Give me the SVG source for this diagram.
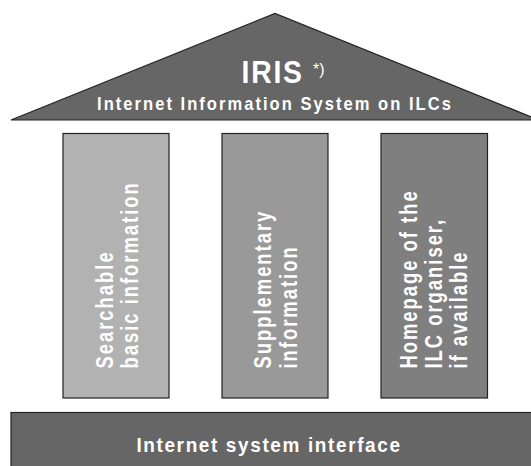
<svg xmlns="http://www.w3.org/2000/svg" width="531" height="466" viewBox="0 0 531 466">
<style>
.t{font-family:"Liberation Sans",Arial,sans-serif;font-weight:bold;fill:#ffffff}
.p{font-size:23px;letter-spacing:2.5px}
.shape{stroke:#222;stroke-width:1.2}
</style>
<rect width="531" height="466" fill="#ffffff"/>
<g id="roof">
<polygon class="shape" points="11,120 275,13.5 539,120" fill="#666666"/>
<text class="t" transform="translate(241.5,83.3) scale(0.9,1)" font-size="31.5" letter-spacing="2">IRIS</text>
<text x="313" y="74.5" font-family="Liberation Sans,Arial,sans-serif" font-size="16" fill="#ffffff">*)</text>
<text class="t" transform="translate(275,110) scale(0.92,1)" font-size="18" letter-spacing="2.2" text-anchor="middle">Internet Information System on ILCs</text>
</g>
<g id="pillar1">
<rect class="shape" x="63" y="133.5" width="106" height="264.5" fill="#b2b2b2" stroke="#333"/>
<text class="t p" transform="translate(112.7,368.5) rotate(-90) scale(0.8,1)">Searchable</text>
<text class="t p" transform="translate(138.3,368.5) rotate(-90) scale(0.8,1)">basic information</text>
</g>
<g id="pillar2">
<rect class="shape" x="222" y="133.5" width="106" height="264.5" fill="#999999" stroke="#555"/>
<text class="t p" transform="translate(270.7,368.5) rotate(-90) scale(0.8,1)">Supplementary</text>
<text class="t p" transform="translate(296.5,368.5) rotate(-90) scale(0.8,1)">information</text>
</g>
<g id="pillar3">
<rect class="shape" x="381" y="133.5" width="106.5" height="264.5" fill="#7f7f7f"/>
<text class="t p" transform="translate(416.5,368.5) rotate(-90) scale(0.8,1)">Homepage of the</text>
<text class="t p" transform="translate(441.5,368.5) rotate(-90) scale(0.8,1)">ILC organiser,</text>
<text class="t p" transform="translate(466.5,368.5) rotate(-90) scale(0.8,1)">if available</text>
</g>
<g id="base">
<rect class="shape" x="11" y="412.5" width="530" height="60" fill="#666666"/>
<text class="t" transform="translate(269,452) scale(0.95,1)" font-size="20" letter-spacing="1.7" text-anchor="middle">Internet system interface</text>
</g>
<g id="connectors"></g>
</svg>
